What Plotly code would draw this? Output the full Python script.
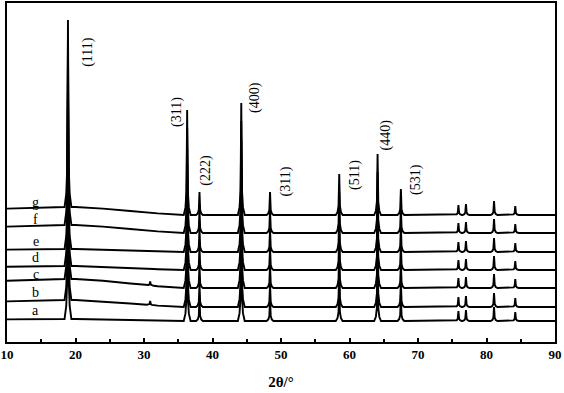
import numpy as np
import plotly.graph_objects as go

# ---- data (intensity in arbitrary units) ----
sample_labels = ["a", "b", "c", "d", "e", "f", "g"]
baseline_offsets = [21, 35, 54, 72, 90, 109, 127]
hump_heights = [2, 7, 9, 4, 3, 8, 8]          # amorphous background hump at low angle
hump_two_theta = [10, 18, 20, 24, 28, 32, 36, 90]
hump_shape = [0.8, 1.0, 1.0, 0.8, 0.5, 0.2, 0.0, 0.0]

peak_two_theta = [18.9, 36.3, 38.1, 44.2, 48.4, 58.5, 64.1, 67.5, 75.9, 77.0, 81.1, 84.2]
peak_heights = [187, 105, 23, 112, 23, 41, 61, 26, 10, 11, 14, 9]
minor_peak_two_theta = 30.9
minor_peak_heights = [0, 4, 4, 0, 0, 0, 0]

# sharp peak profile (relative offsets in degrees and fraction of peak height)
profile_offsets = [-0.5, -0.25, -0.1, 0.0, 0.1, 0.25, 0.5]
profile_fractions = [0.0, 0.07, 0.22, 1.0, 0.22, 0.07, 0.0]

hkl_labels = ["(111)", "(311)", "(222)", "(400)", "(311)", "(511)", "(440)", "(531)"]
hkl_x = [21.8, 34.8, 39.0, 46.2, 50.8, 60.8, 65.4, 69.7]
hkl_y = [290, 230, 172, 245, 161, 167, 207, 163]

sample_label_x = 14.2
sample_label_y = [32, 50, 68, 85, 101, 123, 140]

x_ticks = [10, 20, 30, 40, 50, 60, 70, 80, 90]

FONT = "Liberation Serif"

fig = go.Figure()

for i, lab in enumerate(sample_labels):
    pts = list(hump_two_theta)
    for p in peak_two_theta + [minor_peak_two_theta]:
        pts += [p + o for o in profile_offsets]
    x = np.unique(np.array(pts, dtype=float))
    y = baseline_offsets[i] + hump_heights[i] * np.interp(x, hump_two_theta, hump_shape)
    for p, h in zip(peak_two_theta, peak_heights):
        y += h * np.interp(x - p, profile_offsets, profile_fractions, left=0, right=0)
    y += minor_peak_heights[i] * np.interp(x - minor_peak_two_theta, profile_offsets,
                                           profile_fractions, left=0, right=0)
    fig.add_trace(go.Scatter(x=x, y=y, mode="lines", name=lab,
                             line=dict(color="black", width=1.9), showlegend=False))

for t, xx, yy in zip(hkl_labels, hkl_x, hkl_y):
    fig.add_annotation(x=xx, y=yy, text=t, textangle=-90, showarrow=False,
                       font=dict(family=FONT, size=14, color="black"))

for lab, yy in zip(sample_labels, sample_label_y):
    fig.add_annotation(x=sample_label_x, y=yy, text=lab, showarrow=False,
                       font=dict(family=FONT, size=14, color="black"))

fig.update_layout(
    width=564, height=393,
    margin=dict(l=7, r=9, t=3, b=51, autoexpand=False),
    paper_bgcolor="white", plot_bgcolor="white",
    xaxis=dict(range=[10, 90], tickvals=x_ticks, ticktext=[str(v) for v in x_ticks],
               automargin=False,
               ticks="inside", ticklen=4, tickwidth=1.5, tickcolor="black",
               minor=dict(ticks="inside", ticklen=3, tickwidth=1.5, tickcolor="black", dtick=5),
               showline=True, linecolor="black", linewidth=1.5, mirror=True,
               showgrid=False, zeroline=False,
               tickfont=dict(family=FONT, size=13, color="black", weight="bold"),
               title=dict(text="2θ/°", font=dict(family=FONT, size=15, color="black", weight="bold"),
                          standoff=15)),
    yaxis=dict(range=[0, 339], showticklabels=False, ticks="", automargin=False,
               showline=True, linecolor="black", linewidth=1.5, mirror=True,
               showgrid=False, zeroline=False),
)

fig.write_html("out.html", config={"displayModeBar": False},
               post_script="document.body.style.margin='0';")
